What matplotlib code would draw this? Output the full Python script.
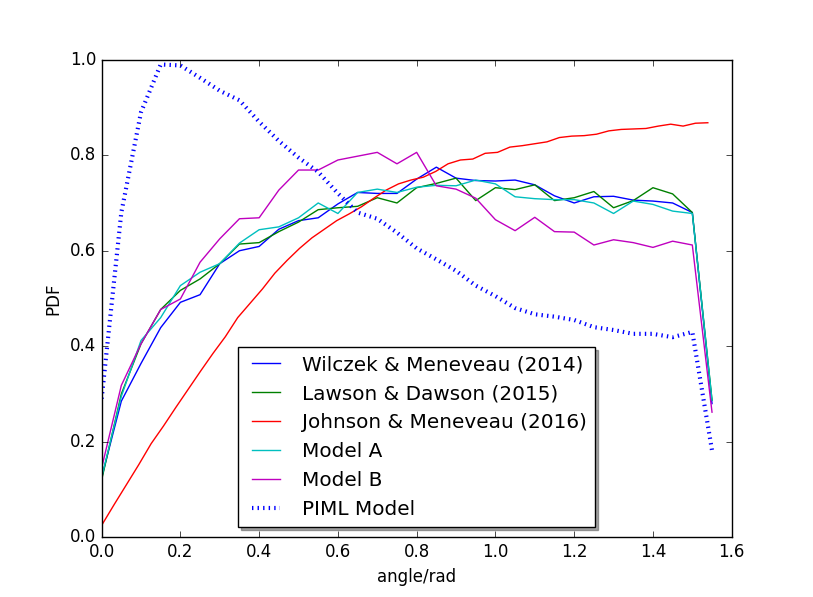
import numpy as np
import matplotlib
matplotlib.use('Agg')
import matplotlib.pyplot as plt

plt.style.use('classic')

# angle grid of the histogram-based curves
angle = [0.0, 0.05, 0.1, 0.15, 0.2, 0.25, 0.3, 0.35, 0.4, 0.45, 0.5, 0.55, 0.6, 0.65, 0.7, 0.75,
         0.8, 0.85, 0.9, 0.95, 1.0, 1.05, 1.1, 1.15, 1.2, 1.25, 1.3, 1.35, 1.4, 1.45, 1.5, 1.55]

wilczek = [0.125, 0.285, 0.364, 0.439, 0.492, 0.508, 0.573, 0.600, 0.609, 0.645, 0.663, 0.669,
           0.698, 0.722, 0.720, 0.720, 0.750, 0.775, 0.752, 0.747, 0.746, 0.748, 0.738, 0.715,
           0.700, 0.713, 0.714, 0.706, 0.704, 0.700, 0.680, 0.280]
lawson = [0.120, 0.300, 0.405, 0.477, 0.517, 0.541, 0.573, 0.614, 0.617, 0.640, 0.660, 0.686,
          0.690, 0.693, 0.711, 0.700, 0.732, 0.741, 0.752, 0.705, 0.732, 0.728, 0.738, 0.705,
          0.711, 0.724, 0.690, 0.705, 0.732, 0.719, 0.680, 0.287]
model_a = [0.125, 0.295, 0.412, 0.460, 0.527, 0.555, 0.573, 0.616, 0.644, 0.650, 0.669, 0.700,
           0.678, 0.722, 0.729, 0.722, 0.733, 0.737, 0.736, 0.748, 0.740, 0.713, 0.709, 0.707,
           0.707, 0.700, 0.678, 0.704, 0.697, 0.683, 0.678, 0.287]
model_b = [0.145, 0.318, 0.405, 0.477, 0.499, 0.576, 0.625, 0.667, 0.669, 0.727, 0.769, 0.769,
           0.790, 0.798, 0.806, 0.782, 0.806, 0.736, 0.729, 0.710, 0.665, 0.642, 0.670, 0.640,
           0.639, 0.612, 0.623, 0.617, 0.607, 0.620, 0.612, 0.262]
piml = [0.290, 0.680, 0.890, 0.990, 0.988, 0.962, 0.935, 0.915, 0.870, 0.830, 0.795, 0.765,
        0.720, 0.680, 0.667, 0.638, 0.605, 0.582, 0.558, 0.527, 0.505, 0.480, 0.467, 0.462,
        0.455, 0.440, 0.434, 0.426, 0.426, 0.419, 0.430, 0.182]

# Johnson & Meneveau on its own grid (k * pi/100)
angle_jm = [k * np.pi / 100 for k in range(50)]
johnson = [0.025, 0.068, 0.110, 0.152, 0.196, 0.233, 0.272, 0.310, 0.348, 0.385, 0.420, 0.460,
           0.490, 0.520, 0.553, 0.580, 0.605, 0.627, 0.645, 0.663, 0.677, 0.692, 0.710, 0.727,
           0.740, 0.748, 0.754, 0.766, 0.782, 0.790, 0.792, 0.804, 0.806, 0.817, 0.820, 0.824,
           0.828, 0.837, 0.840, 0.841, 0.844, 0.851, 0.854, 0.855, 0.856, 0.861, 0.865, 0.861,
           0.867, 0.868]

fig = plt.figure(figsize=(8.13, 5.97), dpi=100)
ax = fig.add_subplot(111)

ax.plot(angle, wilczek, 'b-', label='Wilczek & Meneveau (2014)')
ax.plot(angle, lawson, 'g-', label='Lawson & Dawson (2015)')
ax.plot(angle_jm, johnson, 'r-', label='Johnson & Meneveau (2016)')
ax.plot(angle, model_a, 'c-', label='Model A')
ax.plot(angle, model_b, 'm-', label='Model B')
ax.plot(angle, piml, 'b:', linewidth=3, label='PIML Model')

ax.set_xlim(0, 1.6)
ax.set_ylim(0, 1.0)
ax.set_xlabel('angle/rad')
ax.set_ylabel('PDF')

ax.legend(loc='lower center', fontsize='large', shadow=True)

fig.savefig('out.png', dpi=100)
